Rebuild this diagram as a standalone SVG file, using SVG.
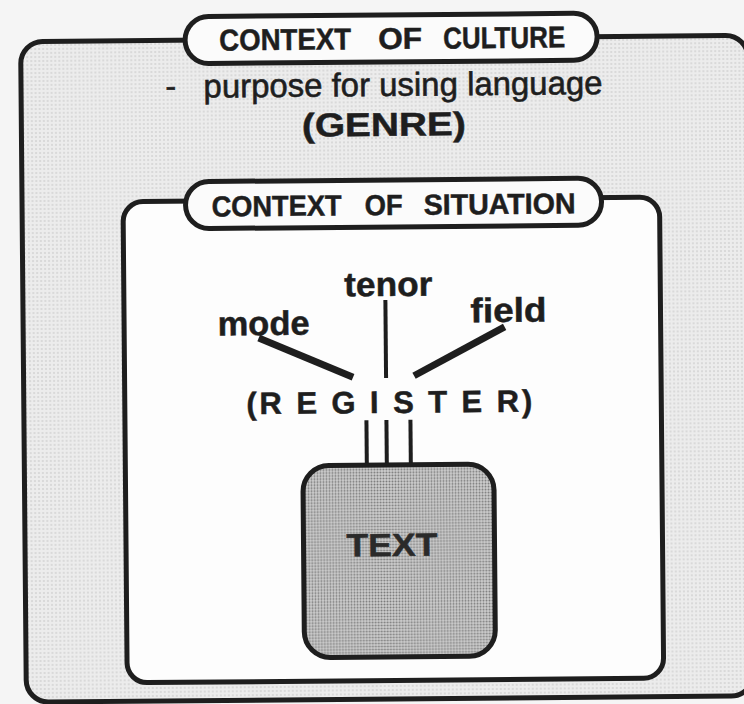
<svg xmlns="http://www.w3.org/2000/svg" width="744" height="704" viewBox="0 0 744 704">
<defs>
<pattern id="dotsLight" width="4" height="4" patternUnits="userSpaceOnUse">
<rect width="4" height="4" fill="#ececec"/>
<circle cx="2" cy="2" r="0.8" fill="#c2c2c2"/>
</pattern>
<pattern id="dotsDark" width="3" height="3" patternUnits="userSpaceOnUse">
<rect width="3" height="3" fill="#cfcfcf"/>
<circle cx="1.5" cy="1.5" r="1" fill="#7a7a7a"/>
</pattern>
</defs>
<style>
.box{stroke:#1e1e1e;stroke-width:5}
.pill{fill:#fbfbfb;stroke:#1e1e1e;stroke-width:5}
.b{font-family:"Liberation Sans",Arial,sans-serif;font-weight:bold;fill:#1e1e1e;stroke:#1e1e1e;stroke-width:0.5}
.r{font-family:"Liberation Sans",Arial,sans-serif;fill:#1e1e1e;stroke:#1e1e1e;stroke-width:0.6}
.ln{stroke:#1e1e1e;stroke-linecap:butt;fill:none}
</style>
<rect width="744" height="704" fill="#f5f5f5"/>
<g transform="rotate(-0.5 384 370)">
<g id="culture">
<rect class="box" x="23.5" y="38.5" width="727" height="660.5" rx="22" fill="url(#dotsLight)"/>
<rect class="pill" x="188" y="15" width="412" height="47" rx="23.5"/>
<text class="b" font-size="30" x="222" y="49" textLength="132" lengthAdjust="spacingAndGlyphs">CONTEXT</text>
<text class="b" font-size="30" x="381" y="49" textLength="44" lengthAdjust="spacingAndGlyphs">OF</text>
<text class="b" font-size="30" x="446" y="49" textLength="122" lengthAdjust="spacingAndGlyphs">CULTURE</text>
<text class="r" font-size="32" x="168" y="95">-</text>
<text class="r" font-size="33" x="206" y="96" textLength="399" lengthAdjust="spacingAndGlyphs">purpose for using language</text>
<text class="b" font-size="33" x="304" y="136" textLength="164" lengthAdjust="spacingAndGlyphs">(GENRE)</text>
</g>
<g id="situation">
<rect class="box" x="124.5" y="199.5" width="536.5" height="481" rx="20" fill="#fdfdfd"/>
<rect class="pill" x="187" y="180" width="416" height="47" rx="23.5"/>
<text class="b" font-size="29" x="213" y="215" textLength="130" lengthAdjust="spacingAndGlyphs">CONTEXT</text>
<text class="b" font-size="29" x="366" y="215" textLength="38" lengthAdjust="spacingAndGlyphs">OF</text>
<text class="b" font-size="29" x="425" y="215" textLength="152" lengthAdjust="spacingAndGlyphs">SITUATION</text>
</g>
<g id="connectors">
<line class="ln" x1="259" y1="337" x2="353" y2="377" stroke-width="7"/>
<line class="ln" x1="386" y1="300" x2="386" y2="378" stroke-width="4"/>
<line class="ln" x1="505" y1="328" x2="414" y2="376" stroke-width="7"/>
<line class="ln" x1="366" y1="420" x2="366" y2="467" stroke-width="4"/>
<line class="ln" x1="386" y1="420" x2="386" y2="467" stroke-width="4"/>
<line class="ln" x1="410" y1="420" x2="410" y2="467" stroke-width="4"/>
</g>
<g id="mode"><text class="b" font-size="34" x="218" y="334" textLength="92" lengthAdjust="spacingAndGlyphs">mode</text></g>
<g id="tenor"><text class="b" font-size="34" x="345" y="296" textLength="88" lengthAdjust="spacingAndGlyphs">tenor</text></g>
<g id="field"><text class="b" font-size="34" x="471" y="323" textLength="76" lengthAdjust="spacingAndGlyphs">field</text></g>
<g id="register"><text class="b" font-size="31" x="246" y="413" textLength="286">(R E G I S T E R)</text></g>
<g id="text-node">
<rect class="box" x="302" y="465" width="191" height="192" rx="26" fill="url(#dotsDark)"/>
<text class="b" font-size="32" x="345" y="556" textLength="91" lengthAdjust="spacingAndGlyphs" style="fill:#2a2a2a;stroke:#2a2a2a">TEXT</text>
</g>
</g>
</svg>
